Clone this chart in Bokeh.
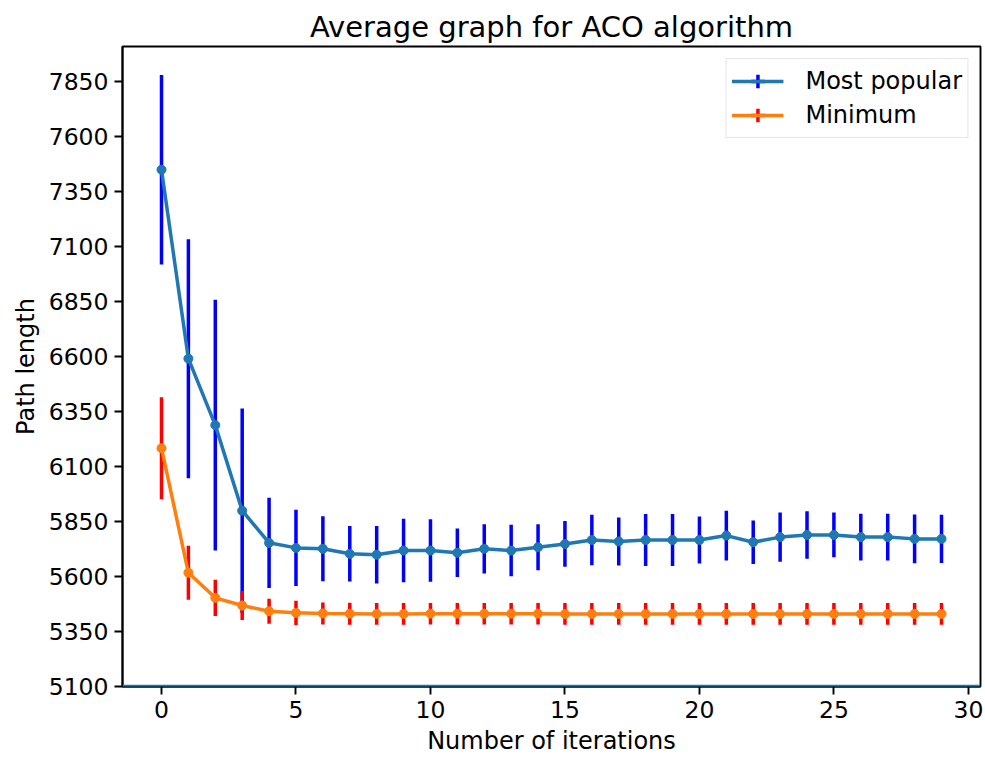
from bokeh.plotting import figure
from bokeh.models import ColumnDataSource, FixedTicker, Range1d, Legend, LegendItem, Span
from bokeh.embed import file_html
from bokeh.resources import INLINE

# ---- data ----
iterations = list(range(30))
most_popular = [7449, 6590, 6288, 5899, 5753, 5730, 5726, 5703, 5699, 5718,
                5718, 5708, 5726, 5718, 5733, 5748, 5766, 5759, 5766, 5766,
                5766, 5786, 5756, 5779, 5789, 5789, 5779, 5779, 5771, 5771]
most_popular_err = [431, 543, 570, 465, 205, 173, 148, 126, 131, 144,
                    142, 110, 112, 117, 105, 104, 115, 109, 118, 118,
                    107, 113, 99, 112, 108, 102, 106, 106, 111, 110]
minimum = [6183, 5617, 5503, 5468, 5442, 5435, 5432, 5431, 5430, 5430,
           5431, 5431, 5431, 5431, 5431, 5430, 5430, 5430, 5430, 5430,
           5430, 5430, 5430, 5430, 5430, 5430, 5430, 5430, 5430, 5430]
minimum_err = [232, 123, 82, 66, 57, 55, 50, 50, 49, 49,
               49, 49, 49, 49, 49, 49, 49, 49, 49, 49,
               49, 49, 49, 49, 49, 49, 49, 49, 49, 49]
baseline = [5100]
y_ticks = [5100, 5350, 5600, 5850, 6100, 6350, 6600, 6850, 7100, 7350, 7600, 7850]
x_ticks = [0, 5, 10, 15, 20, 25, 30]
series_labels = ["Most popular", "Minimum"]

FONT = "DejaVu Sans"

p = figure(frame_width=858, frame_height=640,
           x_range=Range1d(-1.45, 30.45), y_range=Range1d(5100, 8009),
           output_backend="svg", toolbar_location=None,
           min_border_left=122, min_border_right=5, min_border_top=46, min_border_bottom=76,
           title="Average graph for ACO algorithm")

p.title.text_font = FONT
p.title.text_font_size = "29px"
p.title.text_font_style = "normal"
p.title.align = "center"
p.title.standoff = 6
p.title.text_color = "black"

p.xgrid.visible = False
p.ygrid.visible = False
p.outline_line_color = "black"
p.outline_line_width = 1.9
p.outline_line_alpha = 1.0
p.background_fill_color = "white"
p.border_fill_color = "white"

for ax in (p.xaxis[0], p.yaxis[0]):
    ax.axis_line_width = 1.9
    ax.axis_line_color = "black"
    ax.major_tick_line_width = 1.9
    ax.major_tick_line_color = "black"
    ax.major_tick_out = 8
    ax.major_tick_in = 0
    ax.minor_tick_out = 0
    ax.minor_tick_in = 0
    ax.major_label_text_font = FONT
    ax.major_label_text_font_size = "23.5px"
    ax.major_label_text_color = "black"
    ax.major_label_standoff = 6
    ax.axis_label_text_font = FONT
    ax.axis_label_text_font_size = "24px"
    ax.axis_label_text_font_style = "normal"
    ax.axis_label_text_color = "black"
    ax.axis_label_standoff = 6

p.xaxis.ticker = FixedTicker(ticks=x_ticks)
p.yaxis.ticker = FixedTicker(ticks=y_ticks)
p.xaxis.axis_label = "Number of iterations"
p.yaxis.axis_label = "Path length"

# line along the bottom of the axes
p.add_layout(Span(location=baseline[0], dimension="width", line_color="#1f77b4", line_width=3.5))

def add_series(vals, errs, line_color, bar_color):
    lo = [v - e for v, e in zip(vals, errs)]
    hi = [v + e for v, e in zip(vals, errs)]
    src = ColumnDataSource(dict(x=iterations, y=vals, lo=lo, hi=hi))
    p.segment(x0="x", y0="lo", x1="x", y1="hi", source=src, line_color=bar_color, line_width=3.5)
    # legend-only cross (hidden in the plot area)
    cross = p.scatter(x="x", y="y", source=src, marker="cross", size=14,
                      line_color=bar_color, line_width=3.5)
    cross.visible = False
    ln = p.line(x="x", y="y", source=src, line_color=line_color, line_width=3.5)
    p.scatter(x="x", y="y", source=src, marker="circle", size=9,
              fill_color=line_color, line_color=line_color)
    return ln, cross

l1, c1 = add_series(most_popular, most_popular_err, "#1f77b4", "#0000ff")
l2, c2 = add_series(minimum, minimum_err, "#ff7f0e", "#ff0000")

legend = Legend(items=[LegendItem(label=series_labels[0], renderers=[c1, l1]),
                       LegendItem(label=series_labels[1], renderers=[c2, l2])],
                location="top_right", margin=12, padding=5, spacing=0,
                glyph_width=52, glyph_height=34, label_height=34, label_standoff=22,
                label_text_font=FONT, label_text_font_size="24px", label_text_color="black",
                border_line_color="#cccccc", border_line_width=1.9,
                background_fill_alpha=0.8, click_policy="none")
p.add_layout(legend, "center")

open("out.html", "w").write(file_html(p, INLINE))
